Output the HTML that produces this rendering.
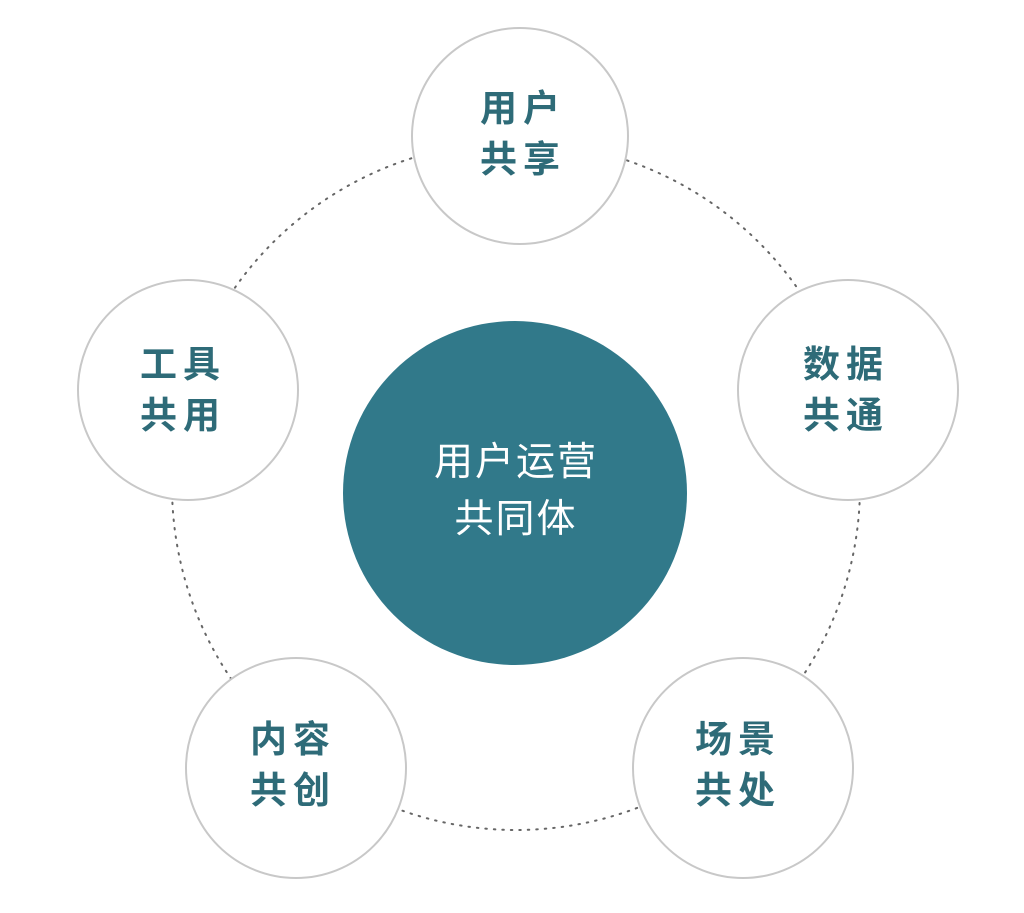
<!DOCTYPE html>
<html><head><meta charset="utf-8"><style>
body{margin:0;background:#fff;}
svg{display:block}
text{font-family:"Liberation Sans","Noto Sans CJK SC",sans-serif;}
</style></head><body>
<svg width="1024" height="913" viewBox="0 0 1024 913">
<circle cx="516" cy="486" r="344" fill="none" stroke="#666" stroke-width="2" stroke-dasharray="1.5 7" stroke-linecap="round"/>
<g fill="#fff" stroke="#c8c8c8" stroke-width="2">
<circle cx="520" cy="136" r="108"/>
<circle cx="188" cy="390" r="110"/>
<circle cx="848" cy="390" r="110"/>
<circle cx="296" cy="768" r="110"/>
<circle cx="743" cy="768" r="110"/>
</g>
<circle cx="515" cy="493" r="172" fill="#31798a"/>
<g fill="#2e6b78" font-size="37" font-weight="bold" text-anchor="middle" letter-spacing="6">
<text x="523" y="121">用户</text><text x="523" y="172">共享</text>
<text x="183" y="377">工具</text><text x="183" y="428">共用</text>
<text x="846" y="377">数据</text><text x="846" y="428">共通</text>
<text x="293" y="752">内容</text><text x="293" y="803">共创</text>
<text x="738" y="752">场景</text><text x="738" y="803">共处</text>
</g>
<g fill="#fff" font-size="39" text-anchor="middle" letter-spacing="2">
<text x="516" y="475">用户运营</text><text x="516" y="532">共同体</text>
</g>
</svg>
</body></html>
